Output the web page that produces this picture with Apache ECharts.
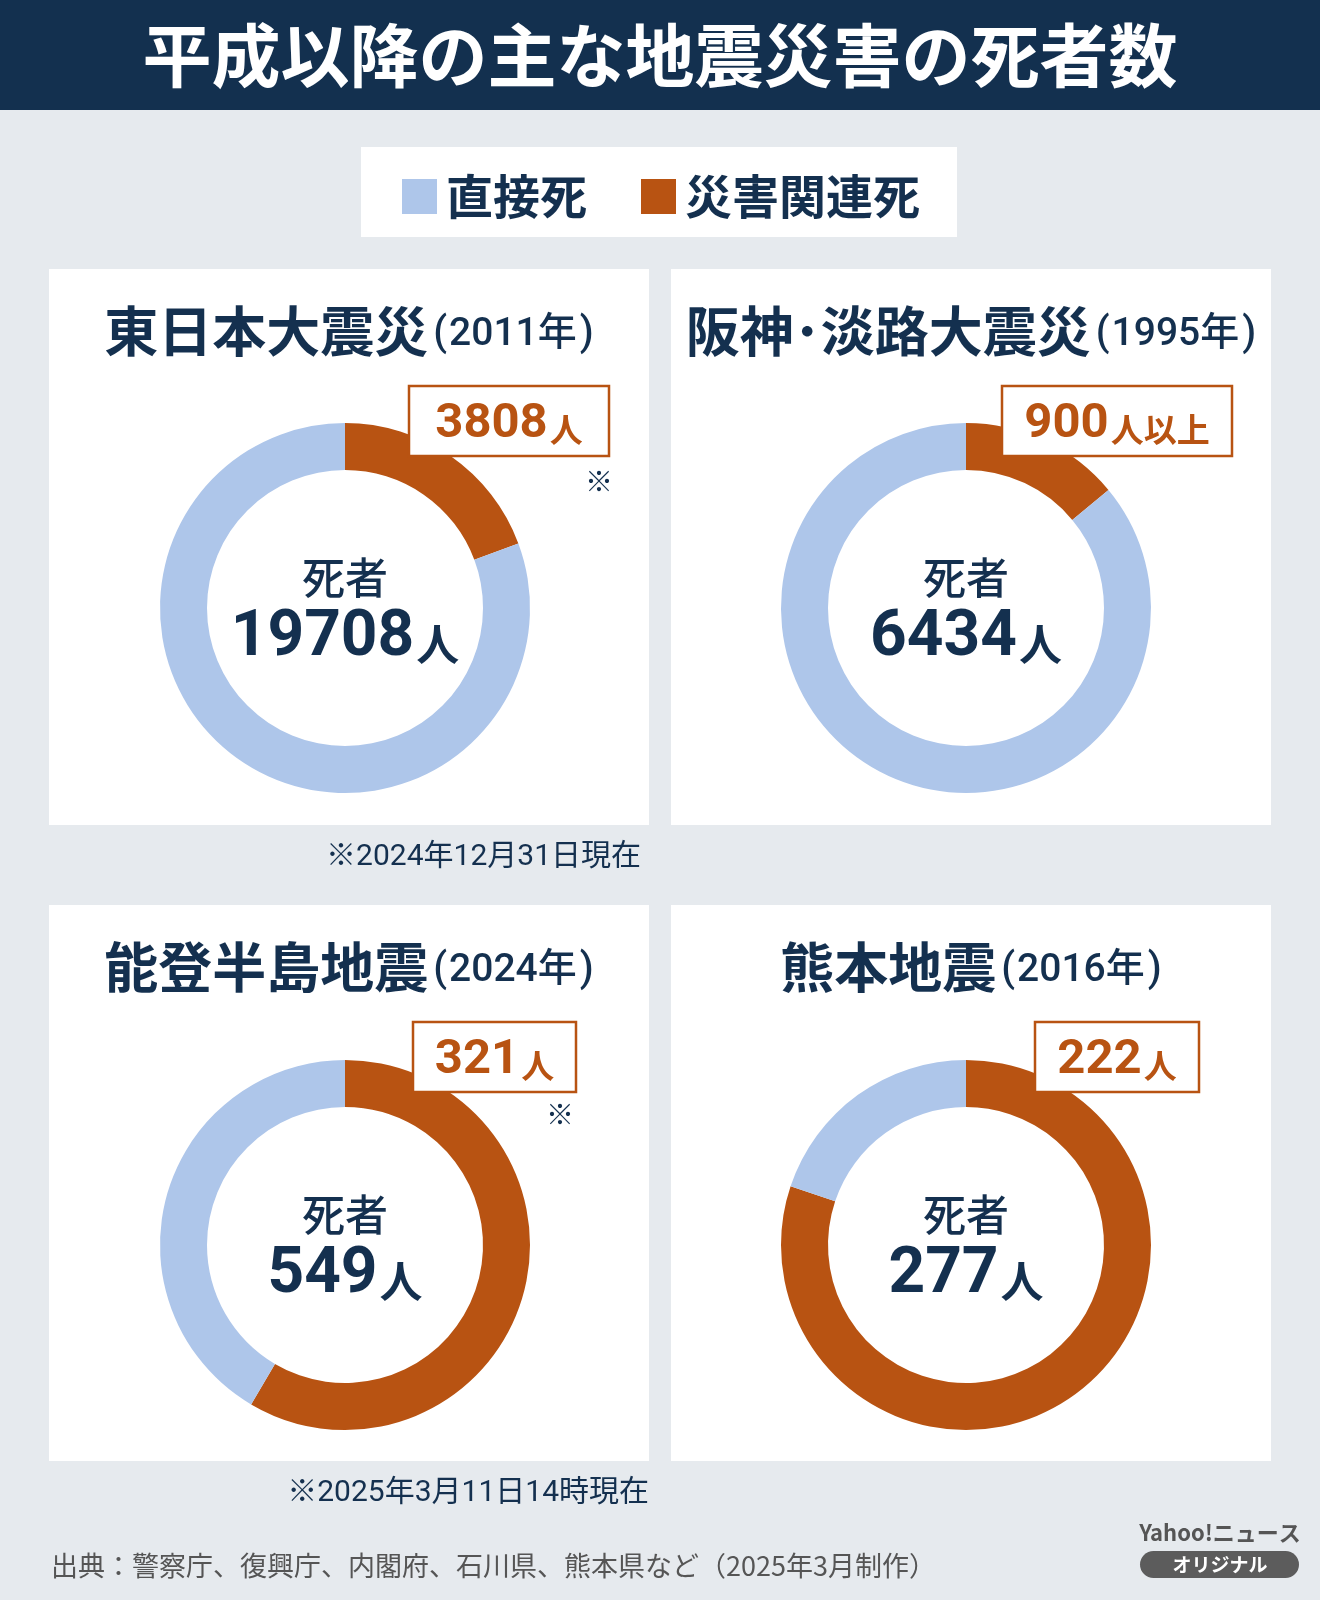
<!DOCTYPE html>
<html>
<head>
<meta charset="utf-8">
<script src="https://cdn.jsdelivr.net/npm/echarts@6/dist/echarts.min.js"></script>
<style>
  html, body { margin: 0; padding: 0; background: #e6eaee; }
  #chart { width: 1320px; height: 1600px; }
</style>
</head>
<body>
<div id="chart"></div>
<script>
// データ
const disasters = ['東日本大震災', '阪神･淡路大震災', '能登半島地震', '熊本地震']
const years = ['2011年', '1995年', '2024年', '2016年']
const directDeaths = [15900, 5534, 228, 55]
const relatedDeaths = [3808, 900, 321, 222]
const totalDeaths = [19708, 6434, 549, 277]
const relatedSuffix = ['人', '人以上', '人', '人']
const hasNote = [true, false, true, false]
const notes = ['※2024年12月31日現在', '※2025年3月11日14時現在']
const legendNames = ['直接死', '災害関連死']

const NAVY = '#14304f'
const BLUE = '#aec6ea'
const ORANGE = '#b85312'
const JP = '"Noto Sans CJK JP", "Noto Sans", sans-serif'
const NUM = 'Roboto, "Noto Sans CJK JP", sans-serif'

// パネル配置
const panels = [
  { x: 49, y: 269, cx: 345, cy: 608, box: [409, 386, 200, 70], mark: [599, 481] },
  { x: 671, y: 269, cx: 966, cy: 608, box: [1002, 386, 230, 70], mark: null },
  { x: 49, y: 905, cx: 345, cy: 1245, box: [413, 1022, 163, 70], mark: [560, 1114] },
  { x: 671, y: 905, cx: 966, cy: 1245, box: [1035, 1022, 164, 70], mark: null },
]
const PW = 600, PH = 556

const chart = echarts.init(document.getElementById('chart'), null, { renderer: 'canvas' })

const graphics = [
  { type: 'rect', shape: { x: 0, y: 0, width: 1320, height: 1600 }, style: { fill: '#e6eaee' }, z: -10 },
  { type: 'rect', shape: { x: 0, y: 0, width: 1320, height: 110 }, style: { fill: '#13304f' }, z: -5 },
  {
    type: 'text', x: 660, y: 56, z: 5,
    style: { text: '平成以降の主な地震災害の死者数', fill: '#fff', font: 'bold 69px ' + JP, textAlign: 'center', textVerticalAlign: 'middle' },
  },
  { type: 'rect', shape: { x: 361, y: 147, width: 596, height: 90 }, style: { fill: '#fff' }, z: -5 },
]

panels.forEach((p, i) => {
  graphics.push({ type: 'rect', shape: { x: p.x, y: p.y, width: PW, height: PH }, style: { fill: '#fff' }, z: -5 })
  graphics.push({
    type: 'text', x: p.x + PW / 2, y: p.y + 62, z: 5,
    style: {
      text: '{a|' + disasters[i] + '}{p|(}{b|' + years[i] + '}{q|)}',
      textAlign: 'center', textVerticalAlign: 'middle',
      rich: {
        a: { fontSize: 54, fontWeight: 'bold', fontFamily: JP, fill: NAVY },
        p: { fontSize: 40, fontWeight: 500, fontFamily: NUM, fill: NAVY, padding: [8, 2, 0, 5] },
        b: { fontSize: 39, fontWeight: 500, fontFamily: NUM, fill: NAVY, padding: [8, 0, 0, 0] },
        q: { fontSize: 40, fontWeight: 500, fontFamily: NUM, fill: NAVY, padding: [8, 0, 0, 3] },
      },
    },
  })
  // 関連死ラベル
  const [bx, by, bw, bh] = p.box
  graphics.push({
    type: 'rect', shape: { x: bx, y: by, width: bw, height: bh }, z: 10,
    style: { fill: '#fff', stroke: ORANGE, lineWidth: 2.5 },
  })
  graphics.push({
    type: 'text', x: bx + bw / 2, y: by + bh / 2 + 4, z: 11,
    style: {
      text: '{n|' + relatedDeaths[i] + '}{u|' + relatedSuffix[i] + '}',
      textAlign: 'center', textVerticalAlign: 'middle',
      rich: {
        n: { fontSize: 49, fontWeight: 'bold', fontFamily: NUM, fill: ORANGE },
        u: { fontSize: 33, fontWeight: 'bold', fontFamily: JP, fill: ORANGE, padding: [8, 0, 0, 2] },
      },
    },
  })
  if (hasNote[i]) {
    graphics.push({
      type: 'text', x: p.mark[0], y: p.mark[1], z: 11,
      style: { text: '※', font: '28px ' + JP, fill: NAVY, textAlign: 'center', textVerticalAlign: 'middle' },
    })
  }
  // 中央テキスト
  graphics.push({
    type: 'text', x: p.cx, y: p.cy - 30, z: 5,
    style: { text: '死者', font: '500 43px ' + JP, fill: NAVY, textAlign: 'center', textVerticalAlign: 'middle' },
  })
  graphics.push({
    type: 'text', x: p.cx, y: p.cy + 31, z: 5,
    style: {
      text: '{n|' + totalDeaths[i] + '}{u|人}',
      textAlign: 'center', textVerticalAlign: 'middle',
      rich: {
        n: { fontSize: 64, fontWeight: 'bold', fontFamily: NUM, fill: NAVY },
        u: { fontSize: 43, fontWeight: 'bold', fontFamily: JP, fill: NAVY, padding: [12, 0, 0, 2] },
      },
    },
  })
})

graphics.push({
  type: 'text', x: 641, y: 857, z: 5,
  style: { text: notes[0], font: '30px ' + NUM, fill: NAVY, textAlign: 'right', textVerticalAlign: 'middle' },
})
graphics.push({
  type: 'text', x: 649, y: 1493, z: 5,
  style: { text: notes[1], font: '30px ' + NUM, fill: NAVY, textAlign: 'right', textVerticalAlign: 'middle' },
})
graphics.push({
  type: 'text', x: 51, y: 1566, z: 5,
  style: { text: '出典：警察庁、復興庁、内閣府、石川県、熊本県など（2025年3月制作）', font: '27px ' + JP, fill: '#555', textAlign: 'left', textVerticalAlign: 'middle' },
})
// ロゴ
graphics.push({
  type: 'text', x: 1220, y: 1533, z: 5,
  style: { text: 'Yahoo!ニュース', font: 'bold 22px ' + JP, fill: '#555', textAlign: 'center', textVerticalAlign: 'middle' },
})
graphics.push({
  type: 'rect', shape: { x: 1140, y: 1551, width: 159, height: 27, r: 13.5 }, z: 5,
  style: { fill: '#5c5c5c' },
})
graphics.push({
  type: 'text', x: 1220, y: 1565, z: 6,
  style: { text: 'オリジナル', font: 'bold 19px ' + JP, fill: '#fff', textAlign: 'center', textVerticalAlign: 'middle' },
})

const series = panels.map((p, i) => ({
  type: 'pie',
  center: [p.cx, p.cy],
  radius: [138, 185],
  startAngle: 90,
  clockwise: true,
  silent: true,
  label: { show: false },
  labelLine: { show: false },
  itemStyle: { borderWidth: 0 },
  data: [
    { name: legendNames[1], value: relatedDeaths[i], itemStyle: { color: ORANGE } },
    { name: legendNames[0], value: directDeaths[i], itemStyle: { color: BLUE } },
  ],
  z: 2,
}))

chart.setOption({
  animation: false,
  backgroundColor: '#e6eaee',
  legend: {
    data: legendNames,
    left: 402,
    top: 173,
    padding: 0,
    itemWidth: 35,
    itemHeight: 35,
    itemGap: 54,
    icon: 'rect',
    selectedMode: false,
    textStyle: { fontSize: 47, fontWeight: 'bold', fontFamily: JP, color: NAVY, padding: [0, 0, 0, 4] },
  },
  graphic: graphics,
  series,
})
</script>
</body>
</html>
